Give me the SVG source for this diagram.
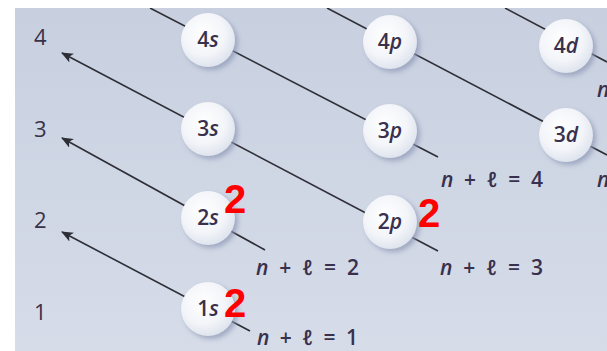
<svg xmlns="http://www.w3.org/2000/svg" width="607" height="351" viewBox="0 0 607 351">
<style>
.bg{fill:url(#bgGrad)}
.ln{stroke:#2e2e36;stroke-width:1.6;fill:none}
.ball{fill:url(#ballGrad)}
.shadow{fill:#8e99b6;opacity:0.75;filter:url(#blur)}
.lbl{font-family:"Open Sans","DejaVu Sans",sans-serif;font-size:21px;font-weight:600;fill:#38304c;text-anchor:middle}
.num{font-family:"Open Sans","DejaVu Sans",sans-serif;font-size:22px;fill:#3a3248}
.eq{font-family:"Open Sans","DejaVu Sans",sans-serif;font-size:21px;font-weight:600;fill:#38304c}
.it{font-style:italic}
.red{font-family:"Liberation Sans",Arial,sans-serif;font-weight:bold;font-size:40px;fill:#ff0000}
</style>
<defs>
<linearGradient id="bgGrad" x1="0" y1="0" x2="0" y2="1">
<stop offset="0" stop-color="#c8d0e0"/>
<stop offset="1" stop-color="#d6dce8"/>
</linearGradient>
<radialGradient id="ballGrad" cx="0.42" cy="0.38" r="0.65">
<stop offset="0" stop-color="#ffffff"/>
<stop offset="0.6" stop-color="#f3f5f9"/>
<stop offset="1" stop-color="#dde2ec"/>
</radialGradient>
<filter id="blur" x="-30%" y="-30%" width="160%" height="160%">
<feGaussianBlur stdDeviation="2.5"/>
</filter>
<marker id="arr" viewBox="0 0 12 10" refX="11" refY="5" markerWidth="12" markerHeight="10" markerUnits="userSpaceOnUse" orient="auto-start-reverse">
<path d="M0,0 L12,5 L0,10 L3,5 Z" fill="#2e2e36"/>
</marker>
<clipPath id="panel"><rect x="15" y="8" width="592" height="343"/></clipPath>
</defs>
<rect x="0" y="0" width="607" height="351" fill="#ffffff"/>
<rect class="bg" x="15" y="8" width="592" height="343"/>

<g id="connectors" clip-path="url(#panel)">
<line class="ln" x1="250" y1="331" x2="62" y2="232" marker-end="url(#arr)"/>
<line class="ln" x1="265" y1="250" x2="62" y2="138" marker-end="url(#arr)"/>
<line class="ln" x1="438" y1="251" x2="62" y2="53" marker-end="url(#arr)"/>
<line class="ln" x1="438" y1="157" x2="150" y2="8"/>
<line class="ln" x1="607" y1="155" x2="327" y2="8"/>
<line class="ln" x1="607" y1="62" x2="505" y2="8"/>
</g>

<g id="row-labels">
<text class="num" x="34" y="45">4</text>
<text class="num" x="34" y="137">3</text>
<text class="num" x="34" y="228">2</text>
<text class="num" x="34" y="320">1</text>
</g>

<g id="node-4s"><circle class="shadow" cx="211" cy="43" r="27"/><circle class="ball" cx="208" cy="40" r="27"/><text class="lbl" x="208" y="47">4<tspan class="it">s</tspan></text></g>
<g id="node-3s"><circle class="shadow" cx="211" cy="132" r="27"/><circle class="ball" cx="208" cy="129" r="27"/><text class="lbl" x="208" y="136">3<tspan class="it">s</tspan></text></g>
<g id="node-2s"><circle class="shadow" cx="211" cy="221" r="27"/><circle class="ball" cx="208" cy="218" r="27"/><text class="lbl" x="208" y="225">2<tspan class="it">s</tspan></text></g>
<g id="node-1s"><circle class="shadow" cx="211" cy="312" r="27"/><circle class="ball" cx="208" cy="309" r="27"/><text class="lbl" x="208" y="316">1<tspan class="it">s</tspan></text></g>
<g id="node-4p"><circle class="shadow" cx="393" cy="45" r="27"/><circle class="ball" cx="390" cy="42" r="27"/><text class="lbl" x="390" y="49">4<tspan class="it">p</tspan></text></g>
<g id="node-3p"><circle class="shadow" cx="393" cy="134" r="27"/><circle class="ball" cx="390" cy="131" r="27"/><text class="lbl" x="390" y="138">3<tspan class="it">p</tspan></text></g>
<g id="node-2p"><circle class="shadow" cx="393" cy="225" r="27"/><circle class="ball" cx="390" cy="222" r="27"/><text class="lbl" x="390" y="229">2<tspan class="it">p</tspan></text></g>
<g id="node-4d"><circle class="shadow" cx="569" cy="49" r="27"/><circle class="ball" cx="566" cy="46" r="27"/><text class="lbl" x="566" y="53">4<tspan class="it">d</tspan></text></g>
<g id="node-3d"><circle class="shadow" cx="569" cy="138" r="27"/><circle class="ball" cx="566" cy="135" r="27"/><text class="lbl" x="566" y="142">3<tspan class="it">d</tspan></text></g>

<g id="sum-labels">
<text class="eq" x="257" y="345" textLength="101" lengthAdjust="spacing"><tspan class="it">n</tspan> + <tspan class="it">ℓ</tspan> = 1</text>
<text class="eq" x="256" y="275" textLength="103" lengthAdjust="spacing"><tspan class="it">n</tspan> + <tspan class="it">ℓ</tspan> = 2</text>
<text class="eq" x="440" y="275" textLength="103" lengthAdjust="spacing"><tspan class="it">n</tspan> + <tspan class="it">ℓ</tspan> = 3</text>
<text class="eq" x="441" y="187" textLength="102" lengthAdjust="spacing"><tspan class="it">n</tspan> + <tspan class="it">ℓ</tspan> = 4</text>
<text class="eq it" x="597" y="187">n</text>
<text class="eq it" x="597" y="97">n</text>
</g>

<g id="electron-counts">
<text class="red" x="224" y="213">2</text>
<text class="red" x="418" y="227">2</text>
<text class="red" x="224" y="317">2</text>
</g>
</svg>
